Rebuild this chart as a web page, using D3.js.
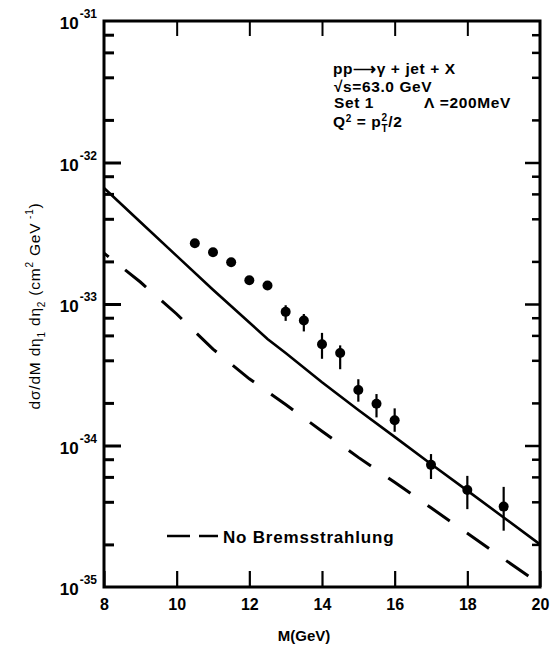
<!DOCTYPE html>
<html><head><meta charset="utf-8">
<script src="https://cdn.jsdelivr.net/npm/d3@7"></script>
<style>
body{margin:0;background:#fff}
svg{display:block}
text{font-family:"Liberation Sans",Arial,Helvetica,sans-serif;fill:#000}
</style>
</head><body>
<svg id="c" width="552" height="645"></svg>
<script>
// ---- data ----
const dataM      = [10.5, 11, 11.5, 12, 12.5, 13, 13.5, 14, 14.5, 15, 15.5, 16, 17, 18, 19];
const dataSigma  = [2.69e-33, 2.32e-33, 1.97e-33, 1.47e-33, 1.35e-33, 8.8e-34, 7.65e-34, 5.2e-34, 4.5e-34, 2.47e-34, 1.97e-34, 1.51e-34, 7.3e-35, 4.85e-35, 3.7e-35];
const dataErrHi  = [null, null, null, null, null, 9.8e-34, 8.5e-34, 6.25e-34, 5.1e-34, 2.94e-34, 2.31e-34, 1.83e-34, 8.7e-35, 6.1e-35, 5.1e-35];
const dataErrLo  = [null, null, null, null, null, 7.6e-34, 6.4e-34, 4.1e-34, 3.46e-34, 2.04e-34, 1.58e-34, 1.25e-34, 5.8e-35, 3.55e-35, 2.5e-35];

const bremsM     = [8, 9, 10, 11, 12, 12.5, 13, 14, 15, 16, 17, 18, 19, 20];
const bremsSigma = [6.6e-33, 3.8e-33, 2.19e-33, 1.26e-33, 7.4e-34, 5.65e-34, 4.5e-34, 2.8e-34, 1.78e-34, 1.15e-34, 7.4e-35, 4.8e-35, 3.1e-35, 2.0e-35];

const noBremsM     = [8, 9, 10, 11, 12, 13, 14, 15, 16, 17, 18, 19, 20];
const noBremsSigma = [2.29e-33, 1.43e-33, 8.5e-34, 4.8e-34, 2.96e-34, 1.95e-34, 1.26e-34, 8.24e-35, 5.5e-35, 3.63e-35, 2.4e-35, 1.58e-35, 1.05e-35];

const xTicks   = [8, 10, 12, 14, 16, 18, 20];
const yExps    = [-31, -32, -33, -34, -35];
const yMinorMantissas = [2, 4, 6, 8];

const annotation = {
  line1: "pp\u27F6\u03B3 + jet + X",
  line2: "\u221As=63.0 GeV",
  line3a: "Set 1",
  line3b: "\u039B =200MeV",
  legend: "No Bremsstrahlung",
  xTitle: "M(GeV)"
};

// ---- layout ----
const svg = d3.select("#c");
const L = 104, R = 540, T = 21, B = 587;

const x = d3.scaleLinear().domain([8, 20]).range([L, R]);
const y = d3.scaleLog().domain([1e-35, 1e-31]).range([B, T]);

const majors = yExps.map(e => Math.pow(10, e));
const minors = [];
for (let e = -35; e <= -32; e++) yMinorMantissas.forEach(m => minors.push(m * Math.pow(10, e)));

function styleAxis(g, w) {
  g.select(".domain").remove();
  g.selectAll("line").attr("stroke", "#000").attr("stroke-width", w);
}

// bottom axis with labels
const gb = svg.append("g").attr("transform", `translate(0,${B})`)
  .call(d3.axisBottom(x).tickValues(xTicks).tickSize(-16).tickPadding(12).tickFormat(d3.format("d")));
styleAxis(gb, 2.2);
gb.selectAll("text").attr("font-size", 16).attr("font-weight", "bold").attr("fill", "#000");

// top axis
const gt = svg.append("g").attr("transform", `translate(0,${T})`)
  .call(d3.axisTop(x).tickValues(xTicks.slice(1, -1)).tickSize(-15).tickFormat(""));
styleAxis(gt, 2);

// left axis
const gl = svg.append("g").attr("transform", `translate(${L},0)`)
  .call(d3.axisLeft(y).tickValues(majors.slice(1, -1)).tickSize(-17).tickFormat(""));
styleAxis(gl, 3);
const glm = svg.append("g").attr("transform", `translate(${L},0)`)
  .call(d3.axisLeft(y).tickValues(minors).tickSize(-10).tickFormat(""));
styleAxis(glm, 3);

// right axis
const gr = svg.append("g").attr("transform", `translate(${R},0)`)
  .call(d3.axisRight(y).tickValues(majors.slice(1, -1)).tickSize(-15).tickFormat(""));
styleAxis(gr, 2.5);
const grm = svg.append("g").attr("transform", `translate(${R},0)`)
  .call(d3.axisRight(y).tickValues(minors).tickSize(-8).tickFormat(""));
styleAxis(grm, 2.5);

// frame
svg.append("rect").attr("x", L).attr("y", T).attr("width", R - L).attr("height", B - T)
  .attr("fill", "none").attr("stroke", "#000").attr("stroke-width", 3);

// y tick labels 10^-n
yExps.forEach(e => {
  const t = svg.append("text").attr("x", 97).attr("y", y(Math.pow(10, e)) + 8)
    .attr("text-anchor", "end").attr("font-weight", "bold").attr("font-size", 17);
  t.append("tspan").text("10");
  t.append("tspan").attr("font-size", 12).attr("dy", -11).attr("dx", 1).text("-" + (-e));
});

// curves
const line = d3.line().x(d => x(d[0])).y(d => y(d[1]));
svg.append("path").datum(bremsM.map((m, i) => [m, bremsSigma[i]]))
  .attr("d", line).attr("fill", "none").attr("stroke", "#000").attr("stroke-width", 2.6);
svg.append("path").datum(noBremsM.map((m, i) => [m, noBremsSigma[i]]))
  .attr("d", line).attr("fill", "none").attr("stroke", "#000").attr("stroke-width", 3)
  .attr("stroke-dasharray", "27,21").attr("stroke-dashoffset", 21);

// data points
const pts = dataM.map((m, i) => ({m, s: dataSigma[i], hi: dataErrHi[i], lo: dataErrLo[i]}));
svg.append("g").selectAll("line").data(pts.filter(p => p.hi !== null)).join("line")
  .attr("x1", p => x(p.m)).attr("x2", p => x(p.m))
  .attr("y1", p => y(p.hi)).attr("y2", p => y(p.lo))
  .attr("stroke", "#000").attr("stroke-width", 2.2);
svg.append("g").selectAll("circle").data(pts).join("circle")
  .attr("cx", p => x(p.m)).attr("cy", p => y(p.s)).attr("r", 5).attr("fill", "#000");

// annotation block
const ann = svg.append("g").attr("font-weight", "bold").attr("font-size", 15.5).attr("letter-spacing", 0.6);
ann.append("text").attr("x", 333).attr("y", 73.5).text(annotation.line1);
ann.append("text").attr("x", 334).attr("y", 91.5).text(annotation.line2);
ann.append("text").attr("x", 334).attr("y", 108).text(annotation.line3a);
ann.append("text").attr("x", 424).attr("y", 108).text(annotation.line3b);
const q = ann.append("text").attr("x", 333).attr("y", 127);
q.append("tspan").text("Q");
q.append("tspan").attr("font-size", 10).attr("dy", -5).text("2");
q.append("tspan").attr("dy", 5).text(" = p");
q.append("tspan").attr("font-size", 10).attr("dy", -6).text("2");
q.append("tspan").attr("font-size", 10).attr("dx", -6).attr("dy", 11).text("T");
q.append("tspan").attr("dy", -5).text("/2");

// legend
const ly = 536;
svg.append("line").attr("x1", 167).attr("x2", 190).attr("y1", ly).attr("y2", ly).attr("stroke", "#000").attr("stroke-width", 2.5);
svg.append("line").attr("x1", 199).attr("x2", 218).attr("y1", ly).attr("y2", ly).attr("stroke", "#000").attr("stroke-width", 2.5);
svg.append("text").attr("x", 223).attr("y", 543).attr("font-size", 17).attr("font-weight", "bold")
  .attr("letter-spacing", 0.8).text(annotation.legend);

// x title
svg.append("text").attr("x", 304).attr("y", 641).attr("text-anchor", "middle")
  .attr("font-size", 15).attr("font-weight", "bold").text(annotation.xTitle);

// y title (rotated)
const yt = svg.append("text").attr("transform", "translate(40,306) rotate(-90)")
  .attr("text-anchor", "middle").attr("font-size", 15.5).attr("letter-spacing", 0.8);
yt.append("tspan").text("d\u03C3/dM d");
yt.append("tspan").text("\u03B7");
yt.append("tspan").attr("font-size", 10).attr("dy", 5).text("1");
yt.append("tspan").attr("dy", -5).text(" d");
yt.append("tspan").text("\u03B7");
yt.append("tspan").attr("font-size", 10).attr("dy", 5).text("2");
yt.append("tspan").attr("dy", -5).text(" (cm");
yt.append("tspan").attr("font-size", 10).attr("dy", -7).text("2");
yt.append("tspan").attr("dy", 7).text(" GeV");
yt.append("tspan").attr("font-size", 10).attr("dy", -7).text(" -1");
yt.append("tspan").attr("dy", 7).text(")");
</script>
</body></html>
